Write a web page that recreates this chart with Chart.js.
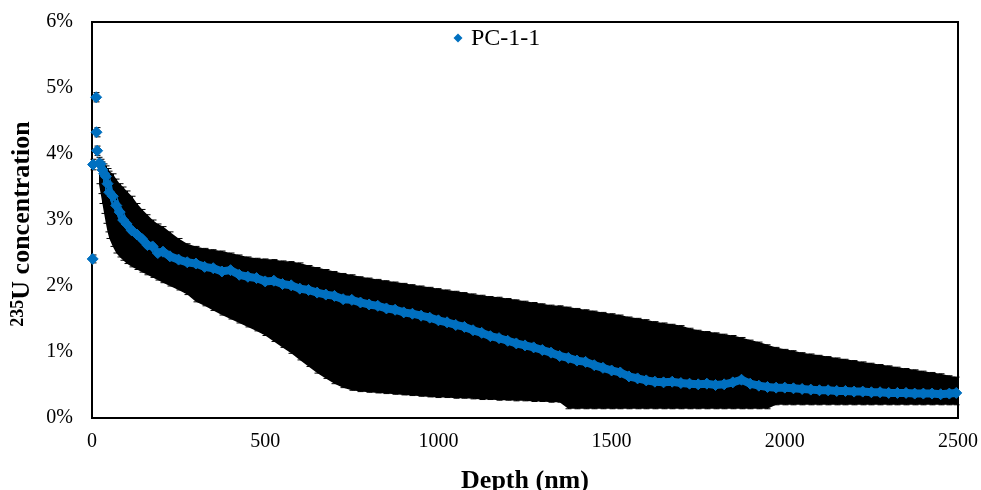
<!DOCTYPE html>
<html lang="en">
<head>
   <meta charset="UTF-8">
   <title>PC-1-1 235U profile</title>
   <script src="https://cdn.jsdelivr.net/npm/chart.js@4.4.1/dist/chart.umd.min.js"></script>
   <style>
      html, body { margin: 0; padding: 0; background: #fff; }
      #wrap { width: 981px; height: 490px; }
   </style>
</head>
<body>
   <div id="wrap"><canvas id="myChart" width="981" height="490"></canvas></div>
   <script>
      const seriesLabel = 'PC-1-1';
      const depth = [2, 3, 12, 13, 15, 20, 25, 30, 35, 40, 45, 50, 60, 70, 80, 90, 100, 115, 130, 145, 160, 175, 190, 205, 225,
         250, 275, 300, 325, 350, 375, 400, 425, 450, 475, 500, 525, 550, 575, 600, 625, 650, 675, 700, 725, 750, 775, 800,
         825, 850, 875, 900, 925, 950, 975, 1000, 1025, 1050, 1075, 1100, 1125, 1150, 1175, 1200, 1225, 1250, 1275, 1300,
         1325, 1350, 1375, 1400, 1425, 1450, 1475, 1500, 1525, 1550, 1575, 1600, 1625, 1650, 1675, 1700, 1725, 1750, 1775,
         1800, 1825, 1850, 1875, 1900, 1925, 1950, 1975, 2000, 2025, 2050, 2075, 2100, 2125, 2150, 2175, 2200, 2225, 2250,
         2275, 2300, 2325, 2350, 2375, 2400, 2425, 2450, 2475, 2495];
      // 235U concentration, %
      const conc = [2.41, 3.84, 4.86, 4.33, 4.05, 3.86, 3.85, 3.76, 3.70, 3.66, 3.55, 3.42, 3.36, 3.22, 3.12, 3.00, 2.94, 2.84, 2.78, 2.71, 2.62, 2.60, 2.50, 2.52, 2.45,
         2.40, 2.36, 2.34, 2.29, 2.27, 2.22, 2.24, 2.17, 2.14, 2.12, 2.07, 2.08, 2.03, 2.01, 1.96, 1.94, 1.90, 1.87, 1.85, 1.80, 1.79, 1.75, 1.72,
         1.70, 1.66, 1.64, 1.60, 1.58, 1.55, 1.52, 1.48, 1.45, 1.41, 1.38, 1.33, 1.29, 1.24, 1.21, 1.17, 1.13, 1.10, 1.07, 1.03,
         0.99, 0.94, 0.91, 0.87, 0.85, 0.80, 0.76, 0.72, 0.69, 0.63, 0.60, 0.57, 0.55, 0.54, 0.55, 0.53, 0.52, 0.51, 0.52,
         0.50, 0.51, 0.54, 0.58, 0.52, 0.49, 0.47, 0.46, 0.46, 0.45, 0.44, 0.43, 0.42, 0.42, 0.41, 0.41, 0.40, 0.40, 0.39,
         0.39, 0.38, 0.38, 0.38, 0.37, 0.37, 0.37, 0.36, 0.37, 0.38];
      // error bar ends, %
      const upper = [2.47, 3.92, 4.93, 4.40, 4.12, 3.95, 3.92, 3.88, 3.85, 3.82, 3.78, 3.74, 3.70, 3.62, 3.55, 3.50, 3.44, 3.36, 3.25, 3.16, 3.08, 3.00, 2.94, 2.90, 2.82,
         2.72, 2.64, 2.60, 2.57, 2.55, 2.53, 2.50, 2.47, 2.44, 2.42, 2.41, 2.40, 2.38, 2.37, 2.35, 2.31, 2.28, 2.25, 2.22, 2.19, 2.17, 2.14, 2.12,
         2.10, 2.08, 2.06, 2.04, 2.02, 2.00, 1.98, 1.96, 1.94, 1.92, 1.90, 1.88, 1.86, 1.84, 1.83, 1.81, 1.79, 1.77, 1.75, 1.73,
         1.71, 1.70, 1.68, 1.66, 1.64, 1.62, 1.60, 1.58, 1.56, 1.53, 1.51, 1.49, 1.46, 1.44, 1.42, 1.40, 1.36, 1.33, 1.31,
         1.29, 1.27, 1.25, 1.22, 1.18, 1.15, 1.11, 1.07, 1.04, 1.02, 0.99, 0.97, 0.95, 0.93, 0.91, 0.89, 0.87, 0.85, 0.83,
         0.81, 0.79, 0.77, 0.75, 0.73, 0.71, 0.69, 0.67, 0.64, 0.62];
      const lower = [2.35, 3.76, 4.79, 4.26, 3.98, 3.55, 3.40, 3.25, 3.10, 2.95, 2.82, 2.72, 2.60, 2.50, 2.44, 2.39, 2.34, 2.29, 2.25, 2.21, 2.17, 2.13, 2.09, 2.05, 2.00,
         1.94, 1.87, 1.76, 1.70, 1.63, 1.56, 1.50, 1.44, 1.38, 1.32, 1.25, 1.16, 1.07, 0.98, 0.88, 0.78, 0.68, 0.60, 0.52, 0.46, 0.42, 0.40, 0.39,
         0.38, 0.37, 0.36, 0.35, 0.34, 0.33, 0.32, 0.31, 0.31, 0.30, 0.30, 0.29, 0.28, 0.28, 0.27, 0.27, 0.26, 0.26, 0.25, 0.25,
         0.24, 0.24, 0.14, 0.14, 0.14, 0.14, 0.14, 0.14, 0.14, 0.14, 0.14, 0.14, 0.14, 0.14, 0.14, 0.14, 0.14, 0.14, 0.14,
         0.14, 0.14, 0.14, 0.14, 0.14, 0.14, 0.14, 0.20, 0.20, 0.20, 0.20, 0.20, 0.20, 0.20, 0.20, 0.20, 0.20, 0.20, 0.20,
         0.20, 0.20, 0.20, 0.20, 0.20, 0.20, 0.20, 0.20, 0.20, 0.20];
      const xTicks = [0, 500, 1000, 1500, 2000, 2500];
      const yTicks = [0, 1, 2, 3, 4, 5, 6];

      const BLUE = '#0070C0';
      const SERIF = "'Liberation Serif', 'Times New Roman', serif";
      const bandStart = 5; // dense part of the profile starts at 20 nm

      const pts = (vals, from) => depth.slice(from).map((d, i) => ({x: d, y: vals[i + from]}));

      // frame round the plot area, drawn under the marks
      const frame = {
         id: 'frame',
         beforeDatasetsDraw(chart) {
            const {ctx, chartArea: a} = chart;
            ctx.save();
            ctx.strokeStyle = '#000';
            ctx.lineWidth = 2;
            ctx.strokeRect(a.left, a.top, a.right - a.left, a.bottom - a.top);
            ctx.restore();
         }
      };

      // vertical error bars with caps, under the blue markers
      const errorBars = {
         id: 'errorBars',
         beforeDatasetDraw(chart, args) {
            if (args.index !== 2) return;
            const {ctx, scales: {x, y}} = chart;
            ctx.save();
            ctx.strokeStyle = '#000';
            ctx.lineWidth = 1;
            ctx.beginPath();
            depth.forEach((d, i) => {
               const px = Math.round(x.getPixelForValue(d)) + 0.5;
               const top = y.getPixelForValue(upper[i]);
               const bot = y.getPixelForValue(lower[i]);
               ctx.moveTo(px, top); ctx.lineTo(px, bot);
               ctx.moveTo(px - 3, top); ctx.lineTo(px + 3, top);
               ctx.moveTo(px - 3, bot); ctx.lineTo(px + 3, bot);
            });
            ctx.stroke();
            ctx.restore();
         }
      };

      // legend inside the plot, top centre, and the y title with its superscript
      const texts = {
         id: 'texts',
         afterDraw(chart) {
            const {ctx, chartArea: a} = chart;
            const ds = chart.data.datasets[2];
            ctx.save();
            ctx.fillStyle = ds.backgroundColor;
            ctx.beginPath();
            const lx = 458, ly = 38;
            ctx.moveTo(lx - 4.5, ly); ctx.lineTo(lx, ly - 4.5); ctx.lineTo(lx + 4.5, ly); ctx.lineTo(lx, ly + 4.5);
            ctx.closePath();
            ctx.fill();
            ctx.fillStyle = '#000';
            ctx.font = '24px ' + SERIF;
            ctx.textBaseline = 'middle';
            ctx.textAlign = 'left';
            ctx.fillText(ds.label, 471, 39);

            const sup = '235', main = 'U concentration';
            const cy = (a.top + a.bottom) / 2 + 4;
            ctx.translate(21, cy);
            ctx.rotate(-Math.PI / 2);
            ctx.textBaseline = 'alphabetic';
            ctx.font = 'bold 18px ' + SERIF;
            const ws = ctx.measureText(sup).width;
            ctx.font = 'bold 26px ' + SERIF;
            const wm = ctx.measureText(main).width;
            const x0 = -(ws + wm) / 2;
            ctx.fillText(main, x0 + ws, 8);
            ctx.font = 'bold 18px ' + SERIF;
            ctx.fillText(sup, x0, 2);
            ctx.restore();
         }
      };

      const config = {
         type: 'scatter',
         data: {
            datasets: [
               {
                  label: 'upper',
                  data: pts(upper, bandStart),
                  showLine: true,
                  borderWidth: 0,
                  pointRadius: 0,
                  backgroundColor: '#000',
                  borderColor: '#000',
                  fill: '+1',
                  order: 3
               },
               {
                  label: 'lower',
                  data: pts(lower, bandStart),
                  showLine: true,
                  borderWidth: 0,
                  pointRadius: 0,
                  borderColor: '#000',
                  fill: false,
                  order: 2
               },
               {
                  label: seriesLabel,
                  data: pts(conc, 0),
                  pointStyle: 'rectRot',
                  pointRadius: 5.5,
                  borderWidth: 1,
                  backgroundColor: BLUE,
                  borderColor: BLUE,
                  clip: false,
                  order: 0
               },
               {
                  // same series, joined so the dense part reads as one band
                  label: 'trace',
                  data: pts(conc, bandStart),
                  showLine: true,
                  borderWidth: 8,
                  pointRadius: 0,
                  borderColor: BLUE,
                  backgroundColor: BLUE,
                  fill: false,
                  clip: false,
                  order: 1
               }
            ]
         },
         options: {
            responsive: false,
            animation: false,
            events: [],
            layout: {padding: {left: 0, right: 23, top: 22, bottom: 0}},
            plugins: {
               legend: {display: false},
               tooltip: {enabled: false}
            },
            scales: {
               x: {
                  type: 'linear',
                  min: xTicks[0],
                  max: xTicks[xTicks.length - 1],
                  afterBuildTicks: (s) => { s.ticks = xTicks.map(v => ({value: v})); },
                  grid: {display: false, drawTicks: false},
                  border: {display: false},
                  ticks: {color: '#000', padding: 12, maxRotation: 0, font: {family: SERIF, size: 20},
                     callback: (v) => String(v)},
                  title: {
                     display: true,
                     text: 'Depth (nm)',
                     color: '#000',
                     padding: {top: 0, bottom: -7},
                     font: {family: SERIF, size: 26, weight: 'bold'}
                  },
                  afterFit: (s) => { s.height = 72; s.paddingLeft = 0; s.paddingRight = 0; }
               },
               y: {
                  min: yTicks[0],
                  max: yTicks[yTicks.length - 1],
                  afterBuildTicks: (s) => { s.ticks = yTicks.map(v => ({value: v})); },
                  grid: {display: false, drawTicks: false},
                  border: {display: false},
                  ticks: {
                     color: '#000',
                     padding: 19,
                     font: {family: SERIF, size: 20},
                     callback: (v) => v + '%'
                  },
                  afterFit: (s) => { s.width = 92; s.paddingTop = 0; s.paddingBottom = 0; }
               }
            }
         },
         plugins: [frame, errorBars, texts]
      };

      new Chart(document.getElementById('myChart'), config);
   </script>
</body>
</html>
